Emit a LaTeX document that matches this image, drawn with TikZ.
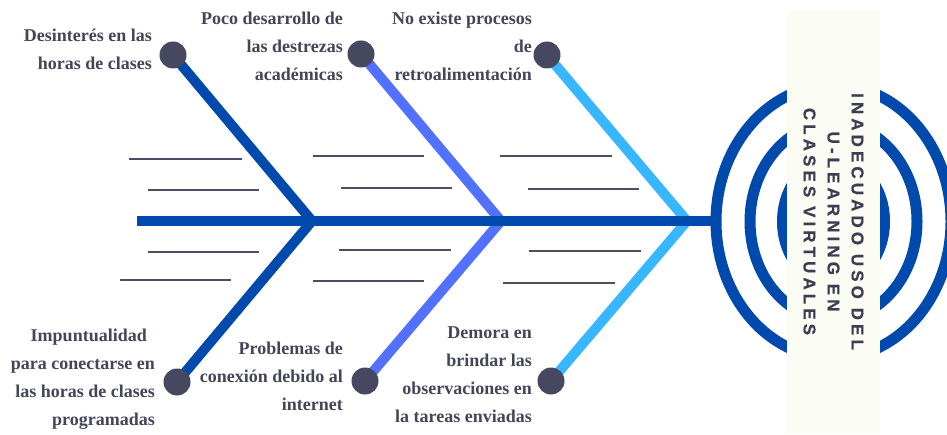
\documentclass[tikz,border=0pt]{standalone}
\usepackage{fontspec}
\setmainfont{Liberation Serif}
\newfontfamily\headfont[LetterSpace=24,UprightFont=* Bold,FakeBold=0.6]{Liberation Sans}
\usetikzlibrary{backgrounds}

\definecolor{boneA}{HTML}{004AAD}
\definecolor{boneB}{HTML}{5271FF}
\definecolor{boneC}{HTML}{38B6FF}
\definecolor{dotgray}{HTML}{46485F}
\definecolor{textgray}{HTML}{44445A}
\definecolor{hatchgray}{HTML}{4D4E63}
\definecolor{boxpale}{HTML}{FBFDF4}

\tikzset{
  causedot/.style={circle,fill=dotgray,minimum size=27pt,inner sep=0pt},
  cause/.style={anchor=north east,inner sep=0pt,align=right,text=textgray,
    font=\fontsize{18}{28}\selectfont\bfseries},
  bone/.style={line width=10pt,line join=miter},
  hatch/.style={line width=2.2pt,hatchgray},
}

\begin{document}
\begin{tikzpicture}[x=1pt,y=-1pt]
  \useasboundingbox (0,0) rectangle (947,435);
  \clip (0,0) rectangle (947,435);

  \node[rotate=-90,fill=boxpale,minimum width=423pt,minimum height=93pt,inner sep=0pt,
    align=center,text=textgray!90!black,font=\headfont\fontsize{17}{24}\selectfont]
    (effect) at (833.5,221.5) {INADECUADO USO DEL\\U-LEARNING EN\\CLASES VIRTUALES};

  \node[causedot] (d1) at (173,55) {};
  \node[causedot] (d2) at (361,54) {};
  \node[causedot] (d3) at (547,55) {};
  \node[causedot] (d4) at (177,382) {};
  \node[causedot] (d5) at (365,381) {};
  \node[causedot] (d6) at (551,381) {};

  \coordinate (j1) at (312,221);
  \coordinate (j2) at (501,221);
  \coordinate (j3) at (687,221);
  \coordinate (head) at (137,221);
  \coordinate (tail) at (712,221);

  \node[cause] (c1) at (152,29) {Desinterés en las\\horas de clases};
  \node[cause] (c2) at (343,12) {Poco desarrollo de\\las destrezas\\académicas};
  \node[cause] (c3) at (532,12) {No existe procesos\\de\\retroalimentación};
  \node[cause] (c4) at (155,329) {Impuntualidad\hspace*{8pt}\\para conectarse en\\las horas de clases\\programadas};
  \node[cause] (c5) at (343,342) {Problemas de\\conexión debido al\\internet};
  \node[cause] (c6) at (532,327) {Demora en\\brindar las\\observaciones en\\la tareas enviadas};

  \foreach \xa/\xb/\y in {129/242/159,148/259/190,148/259/252,120/231/280,
      313/424/156,341/452/188,339/451/250,313/424/281,
      500/612/156,528/639/189,529/641/251,503/615/283}
    \draw[hatch] (\xa,\y) -- (\xb,\y);

  \begin{scope}[on background layer]
    \foreach \a/\b in {117.5/136.5,83.5/98.5,51/62.5}
      \draw[boneA,line width=11pt] (effect.center) ellipse [x radius=\a,y radius=\b];
    \draw[bone,boneA] (d1.center) -- (j1) -- (d4.center);
    \draw[bone,boneB] (d2.center) -- (j2) -- (d5.center);
    \draw[bone,boneC] (d3.center) -- (j3) -- (d6.center);
    \draw[boneA,line width=10.5pt] (head) -- (tail);
  \end{scope}
\end{tikzpicture}
\end{document}
